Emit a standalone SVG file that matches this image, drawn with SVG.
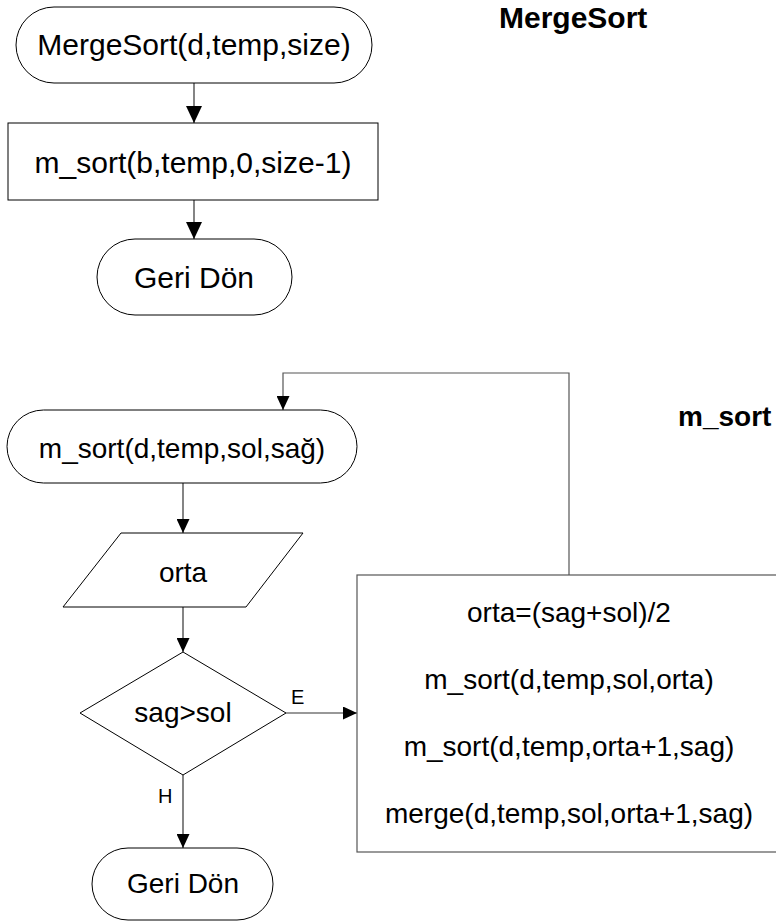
<svg xmlns="http://www.w3.org/2000/svg" width="776" height="922" viewBox="0 0 776 922">
  <style>
    .shape { fill: #ffffff; stroke: #000000; stroke-width: 1; }
    .box { fill: #ffffff; stroke: #555555; stroke-width: 1.2; }
    .t30 { font-family: "Liberation Sans", Arial, sans-serif; font-size: 30px; fill: #000; text-anchor: middle; }
    .t28 { font-family: "Liberation Sans", Arial, sans-serif; font-size: 28px; fill: #000; text-anchor: middle; }
    .lbl { font-family: "Liberation Sans", Arial, sans-serif; font-size: 20px; fill: #000; }
    .title { font-family: "Liberation Sans", Arial, sans-serif; font-weight: bold; fill: #000; }
    .conn { fill: none; stroke: #333333; stroke-width: 1.2; }
    .loop { fill: none; stroke: #555555; stroke-width: 1.2; }
  </style>
  <defs>
    <marker id="ahL" markerWidth="17" markerHeight="16" refX="17" refY="8" orient="auto" markerUnits="userSpaceOnUse">
      <path d="M0,0 L17,8 L0,16 z" fill="#000"/>
    </marker>
    <marker id="ahS" markerWidth="14" markerHeight="13" refX="14" refY="6.5" orient="auto" markerUnits="userSpaceOnUse">
      <path d="M0,0 L14,6.5 L0,13 z" fill="#000"/>
    </marker>
  </defs>

  <text class="title" x="499" y="28" font-size="30">MergeSort</text>
  <text class="title" x="678" y="426" font-size="28">m_sort</text>

  <g id="connectors">
    <line class="conn" x1="194" y1="83" x2="194" y2="123" marker-end="url(#ahL)"/>
    <line class="conn" x1="194" y1="200" x2="194" y2="239" marker-end="url(#ahL)"/>
    <line class="conn" x1="183" y1="483" x2="183" y2="533" marker-end="url(#ahS)"/>
    <line class="conn" x1="183" y1="607" x2="183" y2="652" marker-end="url(#ahS)"/>
    <line class="conn" x1="286" y1="713" x2="357" y2="713" marker-end="url(#ahS)"/>
    <line class="conn" x1="183" y1="775" x2="183" y2="848" marker-end="url(#ahS)"/>
    <polyline class="loop" points="569,575 569,373 283,373 283,410" marker-end="url(#ahS)"/>
    <text class="lbl" x="291" y="704">E</text>
    <text class="lbl" x="158" y="803">H</text>
  </g>

  <g id="start1">
    <rect class="shape" x="16" y="7" width="356" height="76" rx="38" ry="38"/>
    <text class="t30" x="194" y="55">MergeSort(d,temp,size)</text>
  </g>
  <g id="call1">
    <rect class="shape" x="8" y="123" width="370" height="77"/>
    <text class="t30" x="193" y="173">m_sort(b,temp,0,size-1)</text>
  </g>
  <g id="end1">
    <rect class="shape" x="97" y="239" width="195" height="76" rx="38" ry="38"/>
    <text class="t30" x="194" y="288">Geri Dön</text>
  </g>

  <g id="start2">
    <rect class="shape" x="7" y="410" width="350" height="73" rx="36.5" ry="36.5"/>
    <text class="t28" x="182" y="458">m_sort(d,temp,sol,sağ)</text>
  </g>
  <g id="io">
    <polygon class="shape" points="121,533 303,533 246,607 63,607"/>
    <text class="t28" x="183" y="582">orta</text>
  </g>
  <g id="decision">
    <polygon class="shape" points="183,652 286,713 183,775 80,713"/>
    <text class="t28" x="183" y="722">sag&gt;sol</text>
  </g>
  <g id="process">
    <rect class="box" x="357" y="575" width="440" height="277"/>
    <text class="t28" x="569" y="622">orta=(sag+sol)/2</text>
    <text class="t28" x="569" y="689">m_sort(d,temp,sol,orta)</text>
    <text class="t28" x="569" y="756">m_sort(d,temp,orta+1,sag)</text>
    <text class="t28" x="569" y="823">merge(d,temp,sol,orta+1,sag)</text>
  </g>
  <g id="end2">
    <rect class="shape" x="92" y="848" width="181" height="72" rx="36" ry="36"/>
    <text class="t28" x="183" y="893">Geri Dön</text>
  </g>
</svg>
